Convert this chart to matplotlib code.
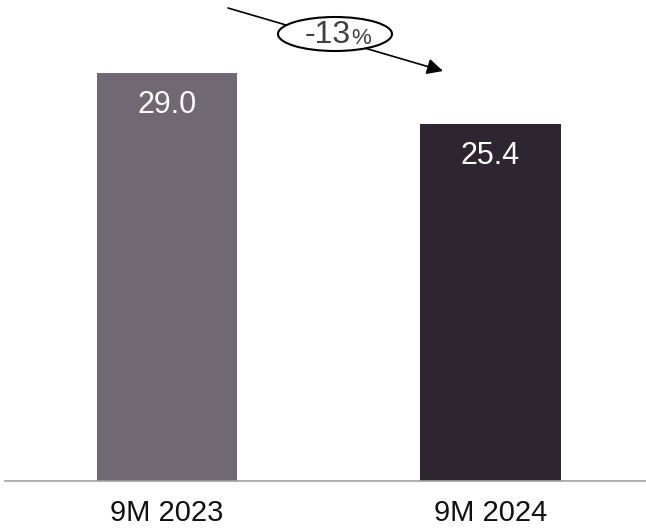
import matplotlib
matplotlib.use("Agg")
import matplotlib.pyplot as plt
from matplotlib.patches import Ellipse, FancyArrowPatch

categories = ["9M 2023", "9M 2024"]
values = [29.0, 25.4]
value_labels = ["29.0", "25.4"]
bar_colors = ["#706873", "#2d2631"]
change_label = "-13"

W, H = 646, 530
plt.rcParams['font.family'] = ['Liberation Sans', 'DejaVu Sans']
fig = plt.figure(figsize=(W / 100, H / 100), dpi=100)

base_px = 481
ax = fig.add_axes([5 / W, 1 - base_px / H, 1 - 5 / W, base_px / H])
px_per_unit = (base_px - 73) / values[0]
ax.set_ylim(0, base_px / px_per_unit)
ax.set_xlim(-0.5008, 1.4807)
x = list(range(len(categories)))
ax.bar(x, values, width=0.433, color=bar_colors, zorder=2)
for xi, v, lab in zip(x, values, value_labels):
    ax.text(xi, v - 32 / px_per_unit, lab, ha="center", va="center",
            color="white", fontsize=22)
for s in ["top", "right", "left"]:
    ax.spines[s].set_visible(False)
ax.spines["bottom"].set_color("#a0a0a0")
ax.spines["bottom"].set_linewidth(1.2)
ax.set_yticks([])
ax.set_xticks(x)
ax.set_xticklabels(categories, fontsize=21, color="#111111")
ax.tick_params(axis="x", length=0, pad=13)

# overlay in pixel coordinates for the annotation
ov = fig.add_axes([0, 0, 1, 1])
ov.set_xlim(0, W)
ov.set_ylim(H, 0)
ov.axis("off")
ov.patch.set_alpha(0)
arr = FancyArrowPatch((228, 8), (443, 71), arrowstyle="-|>", mutation_scale=24,
                      color="black", lw=1.2, shrinkA=0, shrinkB=0)
ov.add_patch(arr)
ell = Ellipse((335, 34), 114, 34, facecolor="white", edgecolor="black", lw=1.5, zorder=3)
ov.add_patch(ell)
ov.text(351, 35, change_label, ha="right", va="center", fontsize=23, color="#404040", zorder=4)
ov.text(351, 38, "%", ha="left", va="center", fontsize=16, color="#404040", zorder=4)

fig.savefig("out.png", dpi=100)
